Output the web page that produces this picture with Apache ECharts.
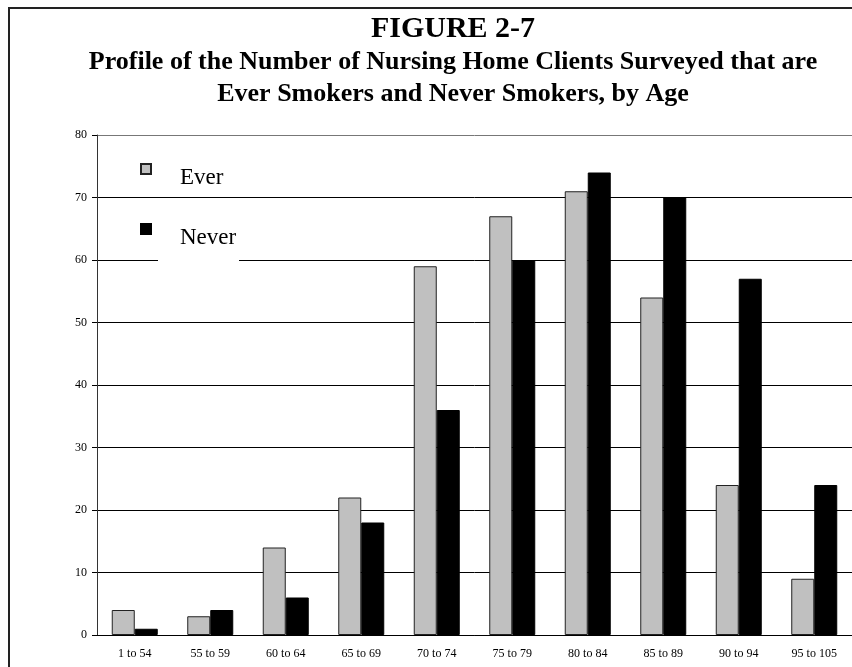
<!DOCTYPE html>
<html>
<head>
<meta charset="utf-8">
<script src="https://cdn.jsdelivr.net/npm/echarts@6/dist/echarts.min.js"></script>
<style>
  html, body { margin: 0; padding: 0; background: #fff; }
  #chart { width: 852px; height: 667px; }
</style>
</head>
<body>
<div id="chart"></div>
<script>
// Age bands and counts of surveyed clients
const ageGroups = ['1 to 54', '55 to 59', '60 to 64', '65 to 69', '70 to 74',
                   '75 to 79', '80 to 84', '85 to 89', '90 to 94', '95 to 105'];
const everSmokers  = [4, 3, 14, 22, 59, 67, 71, 54, 24, 9];
const neverSmokers = [1, 4, 6, 18, 36, 60, 74, 70, 57, 24];
const yTicks = { min: 0, max: 80, interval: 10 };

const serif = "'Liberation Serif', 'Times New Roman', serif";

// key marker: a square sitting in the upper part of a taller box,
// so the marker rides a little above its label
const keyIcon = 'path://M0,0h10v10h-10z M0,27';

const chart = echarts.init(document.getElementById('chart'));
chart.setOption({
  backgroundColor: '#fff',
  animation: false,
  title: {
    text: 'FIGURE 2-7',
    subtext: 'Profile of the Number of Nursing Home Clients Surveyed that are\nEver Smokers and Never Smokers, by Age',
    left: 448,
    top: 7,
    textAlign: 'center',
    itemGap: 0,
    textStyle: { fontFamily: serif, fontWeight: 'bold', fontSize: 30, color: '#000', lineHeight: 34 },
    subtextStyle: { fontFamily: serif, fontWeight: 'bold', fontSize: 26, color: '#000', lineHeight: 32 }
  },
  legend: {
    orient: 'vertical',
    left: 135,
    top: 158,
    itemWidth: 10,
    itemHeight: 27,
    itemGap: 31,
    icon: keyIcon,
    textStyle: { fontFamily: serif, fontSize: 23, color: '#000', padding: [0, 0, 0, 24] },
    data: ['Ever', 'Never'],
    z: 5
  },
  grid: { left: 97, top: 135, width: 760, height: 500, containLabel: false },
  xAxis: {
    type: 'category',
    data: ageGroups,
    axisLine: { lineStyle: { color: '#000', width: 1 } },
    axisTick: { length: 5, lineStyle: { color: '#000' } },
    axisLabel: { fontFamily: serif, fontSize: 12, color: '#000', margin: 13 }
  },
  yAxis: {
    type: 'value',
    min: yTicks.min,
    max: yTicks.max,
    interval: yTicks.interval,
    axisLine: { show: true, lineStyle: { color: '#333', width: 1 } },
    axisTick: { show: true, length: 5, lineStyle: { color: '#000' } },
    axisLabel: { fontFamily: serif, fontSize: 12, color: '#000', margin: 10 },
    splitLine: {
      show: true,
      lineStyle: { color: ['#000', '#000', '#000', '#000', '#000', '#000', '#000', '#000', '#777'], width: 1 }
    }
  },
  graphic: [
    {
      type: 'rect',
      z: 1,
      shape: { x: 9, y: 8, width: 900, height: 700 },
      style: { fill: 'none', stroke: '#222', lineWidth: 2 }
    },
    {
      // break in the 60 gridline beside the key
      type: 'rect',
      z: 1,
      shape: { x: 158, y: 256, width: 81, height: 8 },
      style: { fill: '#fff' }
    }
  ],
  series: [
    {
      name: 'Ever',
      type: 'bar',
      data: everSmokers,
      barWidth: 23,
      barGap: '0%',
      itemStyle: { color: '#c0c0c0', borderColor: '#222', borderWidth: 1 }
    },
    {
      name: 'Never',
      type: 'bar',
      data: neverSmokers,
      barWidth: 23,
      barGap: '0%',
      itemStyle: { color: '#000', borderColor: '#000', borderWidth: 1 }
    }
  ]
});
</script>
</body>
</html>
